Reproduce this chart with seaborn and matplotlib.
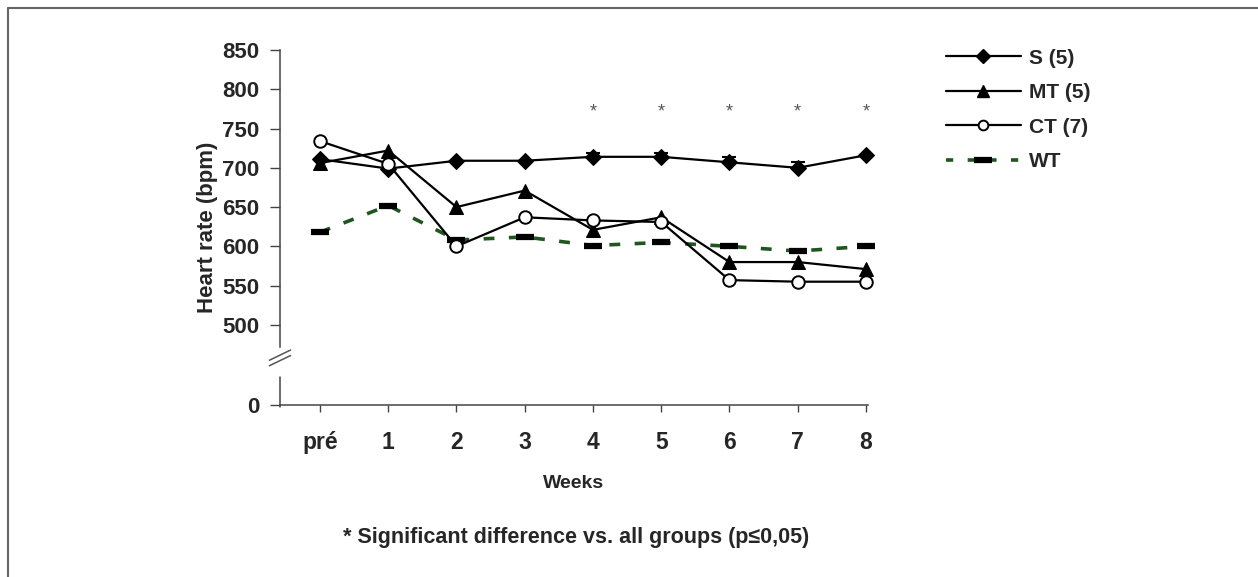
import matplotlib
matplotlib.use("Agg")
import matplotlib.pyplot as plt
import matplotlib.transforms as mtransforms
from matplotlib.lines import Line2D
import seaborn as sns
import numpy as np

# ---- data ----
week_labels = ["pré", "1", "2", "3", "4", "5", "6", "7", "8"]
weeks = list(range(len(week_labels)))
s_vals = [711, 699, 709, 709, 714, 714, 707, 700, 716]
s_err = [0, 0, 0, 0, 5, 5, 7, 8, 0]
mt_vals = [706, 722, 650, 671, 621, 637, 580, 580, 571]
ct_vals = [734, 705, 600, 637, 633, 631, 557, 555, 555]
wt_vals = [618, 652, 608, 612, 601, 605, 600, 594, 600]
sig_weeks = [4, 5, 6, 7, 8]
sig_level = 771
series_labels = ["S (5)", "MT (5)", "CT (7)", "WT"]
y_ticks = [500, 550, 600, 650, 700, 750, 800, 850]
zero_pos = 398

sns.set_theme(style="white")
plt.rcParams['font.family'] = ['Liberation Sans', 'DejaVu Sans']

W, H = 1258, 577
fig = plt.figure(figsize=(W / 100, H / 100), dpi=100)
ax = fig.add_axes([280 / W, 1 - 405 / H, (868 - 280) / W, (405 - 50) / H])

green = '#1f561f'
lw = 1.6

sns.lineplot(x=weeks, y=wt_vals, ax=ax, color=green, linewidth=2.6,
             linestyle=(0, (3, 4)), marker='_', markersize=13,
             markeredgewidth=4.5, markeredgecolor='black', clip_on=False, zorder=2)
ax.errorbar(weeks, s_vals, yerr=[np.zeros(len(s_err)), s_err], fmt='none',
            ecolor='black', elinewidth=1.3, capsize=5, capthick=1.5, zorder=3)
sns.lineplot(x=weeks, y=s_vals, ax=ax, color='black', linewidth=lw,
             marker='D', markersize=8, markerfacecolor='black',
             markeredgecolor='black', clip_on=False, zorder=4)
sns.lineplot(x=weeks, y=mt_vals, ax=ax, color='black', linewidth=lw,
             marker='^', markersize=10, markerfacecolor='black',
             markeredgecolor='black', clip_on=False, zorder=4)
sns.lineplot(x=weeks, y=ct_vals, ax=ax, color='black', linewidth=lw,
             marker='o', markersize=9, markerfacecolor='white',
             markeredgecolor='black', markeredgewidth=1.4, clip_on=False, zorder=5)

for w in sig_weeks:
    ax.text(w, sig_level, "*", ha='center', va='center', fontsize=13,
            color='#555555')

ax.set_xlim(-0.586, 8.03)
ax.set_ylim(zero_pos, 850)
ax.set_xticks(weeks)
ax.set_xticklabels(week_labels, fontsize=16.5, fontweight='bold')
ax.set_yticks([zero_pos] + y_ticks)
ax.set_yticklabels(["0"] + [str(v) for v in y_ticks], fontsize=16, fontweight='bold')
ax.tick_params(axis='x', direction='out', length=5, width=1, color='#444444', pad=14,
               bottom=True)
ax.tick_params(axis='y', direction='out', length=7, width=1, color='#444444', pad=8,
               left=True)
ax.set_xlabel("Weeks", fontsize=14, fontweight='bold', labelpad=15)
ax.set_ylabel("Heart rate (bpm)", fontsize=16, fontweight='bold', labelpad=3)

for side in ['top', 'right']:
    ax.spines[side].set_visible(False)
for side in ['left', 'bottom']:
    ax.spines[side].set_color('#444444')
    ax.spines[side].set_linewidth(1.1)
ax.spines['left'].set_bounds(472, 850)

# lower spine segment and break marks
trans = mtransforms.blended_transform_factory(ax.transAxes, ax.transData)
ax.plot([0, 0], [zero_pos - 3, 434], transform=trans, color='#444444', lw=1.1,
        clip_on=False)
for dy in (0, 7):
    ax.plot([-0.018, 0.018], [448 + dy, 461 + dy], transform=trans,
            color='#555555', lw=1.1, clip_on=False)

# legend
handles = [
    Line2D([], [], color='black', lw=lw, marker='D', markersize=7,
           markerfacecolor='black'),
    Line2D([], [], color='black', lw=lw, marker='^', markersize=9,
           markerfacecolor='black'),
    Line2D([], [], color='black', lw=lw, marker='o', markersize=7,
           markerfacecolor='white', markeredgewidth=1.4),
    Line2D([], [], color=green, lw=2.6, linestyle=(0, (2, 4)), marker='_',
           markersize=13, markeredgewidth=4.5, markeredgecolor='black'),
]
fig.legend(handles, series_labels, loc='upper left',
           bbox_to_anchor=(927 / W, 1 - 30 / H), frameon=False,
           prop={'weight': 'bold', 'size': 15}, handlelength=3.6,
           labelspacing=0.74, numpoints=1, handletextpad=0.4)

fig.text(576 / W, 1 - 538 / H, "* Significant difference vs. all groups (p≤0,05)",
         ha='center', va='center', fontsize=15.5, fontweight='bold')

# partial frame (top and left)
fig.add_artist(Line2D([8 / W, 8 / W], [0, 1 - 8 / H], transform=fig.transFigure,
                      color='#666666', lw=1.5))
fig.add_artist(Line2D([8 / W, 1], [1 - 8 / H, 1 - 8 / H], transform=fig.transFigure,
                      color='#666666', lw=1.5))

fig.savefig("out.png", dpi=100, facecolor='white')
